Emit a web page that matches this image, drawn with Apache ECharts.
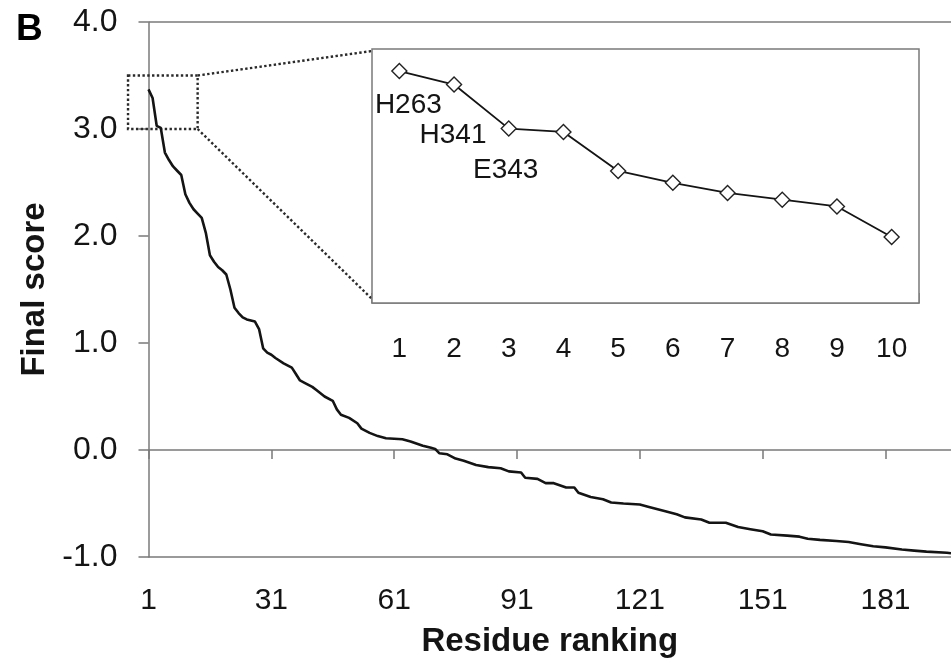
<!DOCTYPE html>
<html>
<head>
<meta charset="utf-8">
<script src="https://cdn.jsdelivr.net/npm/echarts@6/dist/echarts.min.js"></script>
<style>
  html, body { margin: 0; padding: 0; background: #fff; }
  #chart { width: 951px; height: 664px; }
</style>
</head>
<body>
<div id="chart"></div>
<script>
// ---- data ----
const ranks = [1,2,3,4,5,6,7,8,9,10,11,12,13,14,15,16,17,18,19,20,21,22,23,24,25,26,27,28,29,30,31,32,34,36,37,38,39,41,42,44,46,47,48,50,52,53,55,57,59,63,65,68,70,71,72,74,76,78,81,84,87,89,92,93,96,98,100,103,105,106,109,112,114,117,121,123,127,130,132,136,138,142,145,148,151,153,157,160,162,165,169,172,175,178,181,185,188,191,196,197];
const scores = [3.37,3.29,3.03,3.01,2.78,2.71,2.65,2.61,2.57,2.39,2.31,2.25,2.21,2.17,2.03,1.82,1.76,1.71,1.68,1.64,1.50,1.33,1.28,1.24,1.22,1.21,1.20,1.13,0.95,0.91,0.89,0.86,0.81,0.77,0.71,0.65,0.63,0.59,0.56,0.50,0.46,0.38,0.33,0.30,0.25,0.20,0.16,0.13,0.11,0.10,0.08,0.04,0.02,0.01,-0.03,-0.04,-0.08,-0.10,-0.14,-0.16,-0.17,-0.20,-0.21,-0.26,-0.27,-0.31,-0.31,-0.35,-0.35,-0.40,-0.44,-0.46,-0.49,-0.50,-0.51,-0.53,-0.57,-0.60,-0.63,-0.65,-0.68,-0.68,-0.72,-0.74,-0.76,-0.79,-0.80,-0.81,-0.83,-0.84,-0.85,-0.86,-0.88,-0.90,-0.91,-0.93,-0.94,-0.95,-0.96,-0.965];
const xTickValues = [1,31,61,91,121,151,181];
const yTicks = [-1,0,1,2,3,4];
const insetCategories = ['1','2','3','4','5','6','7','8','9','10'];
const insetScores = [3.37,3.29,3.03,3.01,2.78,2.71,2.65,2.61,2.57,2.39];
const insetNames = ['H263','H341','E343'];
const zoomBoxRanks = [-4, 13];
const zoomBoxScores = [3.0, 3.5];

// ---- layout / style ----
const FONT = 'Liberation Sans, Arial, sans-serif';
const AXIS = '#7a7a7a';
const INK = '#141414';
const mainGrid = { left: 148.5, top: 22, right: -3, bottom: 107 };
const insetGrid = { left: 372, top: 49, width: 547, height: 254 };
const labelOffsets = [[9, 34], [-1, 51], [-3, 42]];

const mainData = ranks.map((r, i) => [r, scores[i]]);
const insetData = insetScores.map((v, i) => {
  const item = { value: v };
  if (i < insetNames.length) {
    item.label = {
      show: true, position: 'inside', offset: labelOffsets[i],
      formatter: insetNames[i], fontSize: 28, fontFamily: FONT, color: INK
    };
  }
  return item;
});

const chart = echarts.init(document.getElementById('chart'), null, { renderer: 'canvas' });
chart.setOption({
  animation: false,
  backgroundColor: '#fff',
  grid: [
    Object.assign({ containLabel: false }, mainGrid),
    Object.assign({ show: true, borderColor: AXIS, borderWidth: 1.5, backgroundColor: '#fff', z: 5 }, insetGrid)
  ],
  xAxis: [
    {
      type: 'value', gridIndex: 0, min: 1, max: 197, position: 'bottom',
      axisLine: { show: true, onZero: false, lineStyle: { color: AXIS, width: 1.5 } },
      axisTick: { show: false },
      splitLine: { show: false },
      axisLabel: { customValues: xTickValues, fontSize: 30, fontFamily: FONT, color: INK, margin: 29 },
      name: 'Residue ranking', nameLocation: 'middle', nameGap: 68,
      nameTextStyle: { fontSize: 33, fontWeight: 'bold', fontFamily: FONT, color: INK }
    },
    {
      type: 'value', gridIndex: 0, min: 1, max: 197, position: 'top',
      axisLine: { show: true, onZero: true, onZeroAxisIndex: 0, lineStyle: { color: AXIS, width: 1.5 } },
      axisTick: { show: true, inside: true, length: 9, customValues: xTickValues, lineStyle: { color: AXIS, width: 1.5 } },
      axisLabel: { show: false },
      splitLine: { show: false }
    },
    {
      type: 'category', gridIndex: 1, data: insetCategories, boundaryGap: true,
      axisLine: { show: true, lineStyle: { color: AXIS, width: 1.5 } },
      axisTick: { show: true, inside: true, length: 10, alignWithLabel: false, lineStyle: { color: AXIS, width: 1.5 } },
      axisLabel: { fontSize: 28, fontFamily: FONT, color: INK, margin: 32 },
      splitLine: { show: false }
    }
  ],
  yAxis: [
    {
      type: 'value', gridIndex: 0, min: yTicks[0], max: yTicks[yTicks.length - 1], interval: 1,
      axisLine: { show: true, onZero: false, lineStyle: { color: AXIS, width: 1.5 } },
      axisTick: { show: true, inside: false, length: 10, lineStyle: { color: AXIS, width: 1.5 } },
      splitLine: { show: false },
      axisLabel: { fontSize: 32, fontFamily: FONT, color: INK, margin: 31, formatter: v => v.toFixed(1) },
      name: 'Final score', nameLocation: 'middle', nameGap: 95, nameRotate: 90,
      nameTextStyle: { fontSize: 33, fontWeight: 'bold', fontFamily: FONT, color: INK }
    },
    {
      type: 'value', gridIndex: 1, min: 2.0, max: 3.5, show: false
    }
  ],
  series: [
    {
      type: 'line', xAxisIndex: 0, yAxisIndex: 0, data: mainData,
      showSymbol: false, symbol: 'none', smooth: false,
      lineStyle: { color: INK, width: 2.6 },
      markLine: {
        silent: true, symbol: 'none', label: { show: false },
        lineStyle: { color: AXIS, width: 1.5, type: 'solid' },
        data: [{ yAxis: yTicks[yTicks.length - 1] }]
      }
    },
    {
      type: 'line', xAxisIndex: 2, yAxisIndex: 1, data: insetData, z: 10,
      symbol: 'diamond', symbolSize: [15, 15], showSymbol: true,
      lineStyle: { color: INK, width: 1.8 },
      itemStyle: { color: '#fff', borderColor: '#222', borderWidth: 1.4 }
    }
  ]
});

// Dotted zoom box + connector lines, positioned through the main axes
const p00 = chart.convertToPixel({ gridIndex: 0 }, [zoomBoxRanks[0], zoomBoxScores[1]]);
const p11 = chart.convertToPixel({ gridIndex: 0 }, [zoomBoxRanks[1], zoomBoxScores[0]]);
const dot = { stroke: '#2a2a2a', lineWidth: 2.4, lineDash: [2.4, 2.4], fill: null };
chart.setOption({
  graphic: [
    { type: 'text', left: 16, top: 11, style: { text: 'B', fontSize: 37, fontWeight: 'bold', fontFamily: FONT, fill: '#000' } },
    { type: 'rect', shape: { x: p00[0], y: p00[1], width: p11[0] - p00[0], height: p11[1] - p00[1] }, style: dot, z: 3 },
    { type: 'line', shape: { x1: p11[0], y1: p00[1], x2: insetGrid.left, y2: insetGrid.top + 2 }, style: dot, z: 3 },
    { type: 'line', shape: { x1: p11[0], y1: p11[1], x2: insetGrid.left, y2: insetGrid.top + insetGrid.height - 4 }, style: dot, z: 3 }
  ]
});
</script>
</body>
</html>
